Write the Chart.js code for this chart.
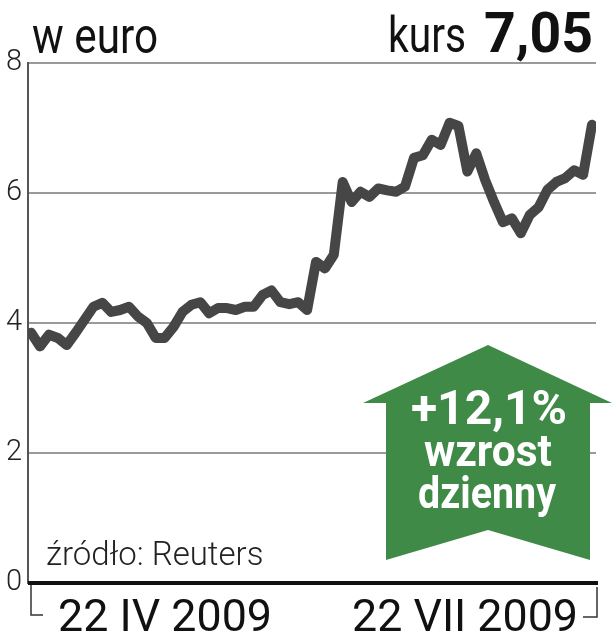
<!DOCTYPE html>
<html>
<head>
<meta charset="utf-8">
<script src="https://cdn.jsdelivr.net/npm/chart.js@4"></script>
<style>
  html, body { margin: 0; padding: 0; background: #fff; }
  #wrap { width: 612px; height: 640px; }
</style>
</head>
<body>
<div id="wrap"><canvas id="chart" width="612" height="640"></canvas></div>
<script>
// closing price, EUR, 22 IV 2009 - 22 VII 2009
const kurs = [
    3.85, 3.64, 3.82, 3.77, 3.66, 3.85, 4.05, 4.25, 4.31, 4.17,
    4.20, 4.25, 4.10, 4.00, 3.77, 3.77, 3.94, 4.17, 4.28, 4.32,
    4.15, 4.23, 4.23, 4.20, 4.25, 4.25, 4.43, 4.50, 4.32, 4.29,
    4.32, 4.20, 4.94, 4.84, 5.05, 6.17, 5.86, 6.02, 5.94, 6.07,
    6.04, 6.02, 6.10, 6.54, 6.58, 6.82, 6.74, 7.08, 7.03, 6.33,
    6.61, 6.20, 5.86, 5.55, 5.61, 5.38, 5.66, 5.78, 6.05, 6.17,
    6.23, 6.35, 6.28, 7.05
];
const yTicks = [0, 2, 4, 6, 8];
const dateLabels = ['22 IV 2009', '22 VII 2009'];
const unitLabel = 'w euro';
const lastLabel = 'kurs';
const lastValue = '7,05';
const changeLines = ['+12,1%', 'wzrost', 'dzienny'];
const sourceLabel = 'źródło: Reuters';

const FONT = 'Roboto, "Liberation Sans", sans-serif';

// titles, date labels, brackets and the green arrow
const decor = {
    id: 'decor',
    afterDraw(chart) {
        const ctx = chart.ctx;
        const a = chart.chartArea;
        ctx.save();

        // heavy zero line
        ctx.strokeStyle = '#111';
        ctx.lineWidth = 4;
        ctx.beginPath();
        ctx.moveTo(a.left, a.bottom);
        ctx.lineTo(a.right + 2, a.bottom);
        ctx.stroke();

        // brackets under the axis
        ctx.strokeStyle = '#333';
        ctx.lineWidth = 1.5;
        ctx.beginPath();
        ctx.moveTo(a.left + 3, a.bottom + 2);
        ctx.lineTo(a.left + 3, a.bottom + 32);
        ctx.lineTo(a.left + 15, a.bottom + 32);
        ctx.moveTo(a.right + 1, a.bottom + 4);
        ctx.lineTo(a.right + 1, a.bottom + 34);
        ctx.lineTo(a.right - 13, a.bottom + 34);
        ctx.stroke();

        ctx.fillStyle = '#111';
        ctx.textBaseline = 'alphabetic';
        ctx.textAlign = 'left';
        ctx.font = '400 45px ' + FONT;
        ctx.fillText(dateLabels[0], 58, 631, 214);
        ctx.fillText(dateLabels[1], 352, 631, 226);

        // header
        ctx.font = '400 50px ' + FONT;
        ctx.fillText(unitLabel, 32, 53, 126);
        ctx.fillText(lastLabel, 388, 52, 78);
        ctx.font = '700 56px ' + FONT;
        ctx.fillText(lastValue, 484, 52, 109);

        // source
        ctx.fillStyle = '#222';
        ctx.font = '300 33px ' + FONT;
        ctx.fillText(sourceLabel, 46, 565, 220);

        // arrow
        ctx.fillStyle = '#3f8a47';
        ctx.beginPath();
        ctx.moveTo(488, 345);
        ctx.lineTo(612, 403);
        ctx.lineTo(590, 403);
        ctx.lineTo(590, 560);
        ctx.lineTo(488, 530);
        ctx.lineTo(386, 560);
        ctx.lineTo(386, 403);
        ctx.lineTo(363, 403);
        ctx.closePath();
        ctx.fill();

        ctx.fillStyle = '#fff';
        ctx.textAlign = 'center';
        ctx.font = '700 48px ' + FONT;
        ctx.fillText(changeLines[0], 489, 424, 162);
        ctx.font = '700 44px ' + FONT;
        ctx.fillText(changeLines[1], 488, 466, 128);
        ctx.fillText(changeLines[2], 487, 508, 138);

        ctx.restore();
    }
};

new Chart(document.getElementById('chart'), {
    type: 'line',
    data: {
        datasets: [{
            data: kurs.map((v, i) => ({ x: i, y: v })),
            borderColor: '#464646',
            borderWidth: 10,
            borderJoinStyle: 'round',
            borderCapStyle: 'round',
            pointRadius: 0,
            tension: 0,
            fill: false
        }]
    },
    options: {
        responsive: false,
        animation: false,
        layout: {
            padding: { top: 63, bottom: 57, right: 16, left: 0 }
        },
        plugins: {
            legend: { display: false },
            tooltip: { enabled: false }
        },
        scales: {
            x: {
                type: 'linear',
                display: false,
                min: -0.35,
                max: kurs.length - 1 + 0.45
            },
            y: {
                min: 0,
                max: 8,
                afterBuildTicks: (scale) => {
                    scale.ticks = yTicks.map(v => ({ value: v }));
                },
                afterFit: (scale) => {
                    scale.width = 28;
                },
                border: { display: true, color: '#555', width: 2 },
                grid: {
                    drawTicks: false,
                    lineWidth: 2,
                    color: (c) => c.tick && c.tick.value === 0 ? 'rgba(0,0,0,0)' : '#9a9a9a'
                },
                ticks: {
                    padding: 6,
                    color: '#222',
                    font: { family: 'Roboto', weight: '300', size: 29 }
                }
            }
        }
    },
    plugins: [decor]
});
</script>
</body>
</html>
